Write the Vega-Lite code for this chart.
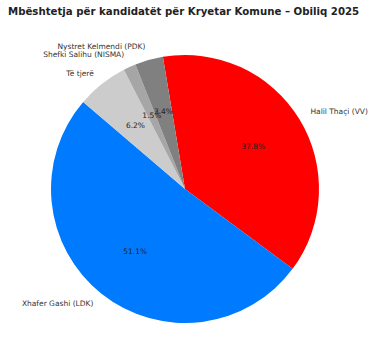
{
  "$schema": "https://vega.github.io/schema/vega-lite/v6.json",
  "autosize": {"type": "none"},
  "width": 370,
  "height": 328,
  "padding": {"top": 25, "left": 0, "right": 7, "bottom": 0},
  "background": "white",
  "title": {
    "text": "Mbështetja për kandidatët për Kryetar Komune – Obiliq 2025",
    "anchor": "start",
    "frame": "group",
    "dx": 8,
    "offset": 8,
    "font": "DejaVu Sans",
    "fontSize": 10.2,
    "fontWeight": "bold",
    "color": "#222222"
  },
  "config": {"view": {"stroke": null}},
  "data": {
    "values": [
      {"idx": 1, "name": "Halil Thaçi (VV)", "share": 0.378},
      {"idx": 2, "name": "Xhafer Gashi (LDK)", "share": 0.511},
      {"idx": 3, "name": "Të tjerë", "share": 0.062},
      {"idx": 4, "name": "Shefki Salihu (NISMA)", "share": 0.015},
      {"idx": 5, "name": "Nystret Kelmendi (PDK)", "share": 0.034}
    ]
  },
  "encoding": {
    "theta": {
      "field": "share",
      "type": "quantitative",
      "stack": true,
      "scale": {"range": [-0.1658, 6.1174]}
    },
    "order": {"field": "idx", "type": "quantitative", "sort": "ascending"}
  },
  "layer": [
    {
      "mark": {"type": "arc", "radius": 134},
      "encoding": {
        "color": {
          "field": "name",
          "type": "nominal",
          "scale": {
            "domain": ["Halil Thaçi (VV)", "Xhafer Gashi (LDK)", "Të tjerë", "Shefki Salihu (NISMA)", "Nystret Kelmendi (PDK)"],
            "range": ["#ff0000", "#007bff", "#cccccc", "#a6a6a6", "#808080"]
          },
          "legend": null
        }
      }
    },
    {
      "mark": {"type": "text", "radius": 80, "font": "DejaVu Sans", "fontSize": 7.5, "fill": "#222222"},
      "encoding": {"text": {"field": "share", "type": "quantitative", "format": ".1%"}}
    },
    {
      "mark": {"type": "text", "radius": 147, "align": "left", "baseline": "middle", "font": "DejaVu Sans", "fontSize": 7.5, "fill": "#333333"},
      "encoding": {
        "text": {"field": "name", "type": "nominal"},
        "opacity": {"condition": {"test": "datum.name == 'Halil Thaçi (VV)'", "value": 1}, "value": 0}
      }
    },
    {
      "mark": {"type": "text", "radius": 147, "align": "right", "baseline": "middle", "font": "DejaVu Sans", "fontSize": 7.5, "fill": "#333333"},
      "encoding": {
        "text": {"field": "name", "type": "nominal"},
        "opacity": {"condition": {"test": "datum.name == 'Halil Thaçi (VV)'", "value": 0}, "value": 1}
      }
    }
  ]
}
